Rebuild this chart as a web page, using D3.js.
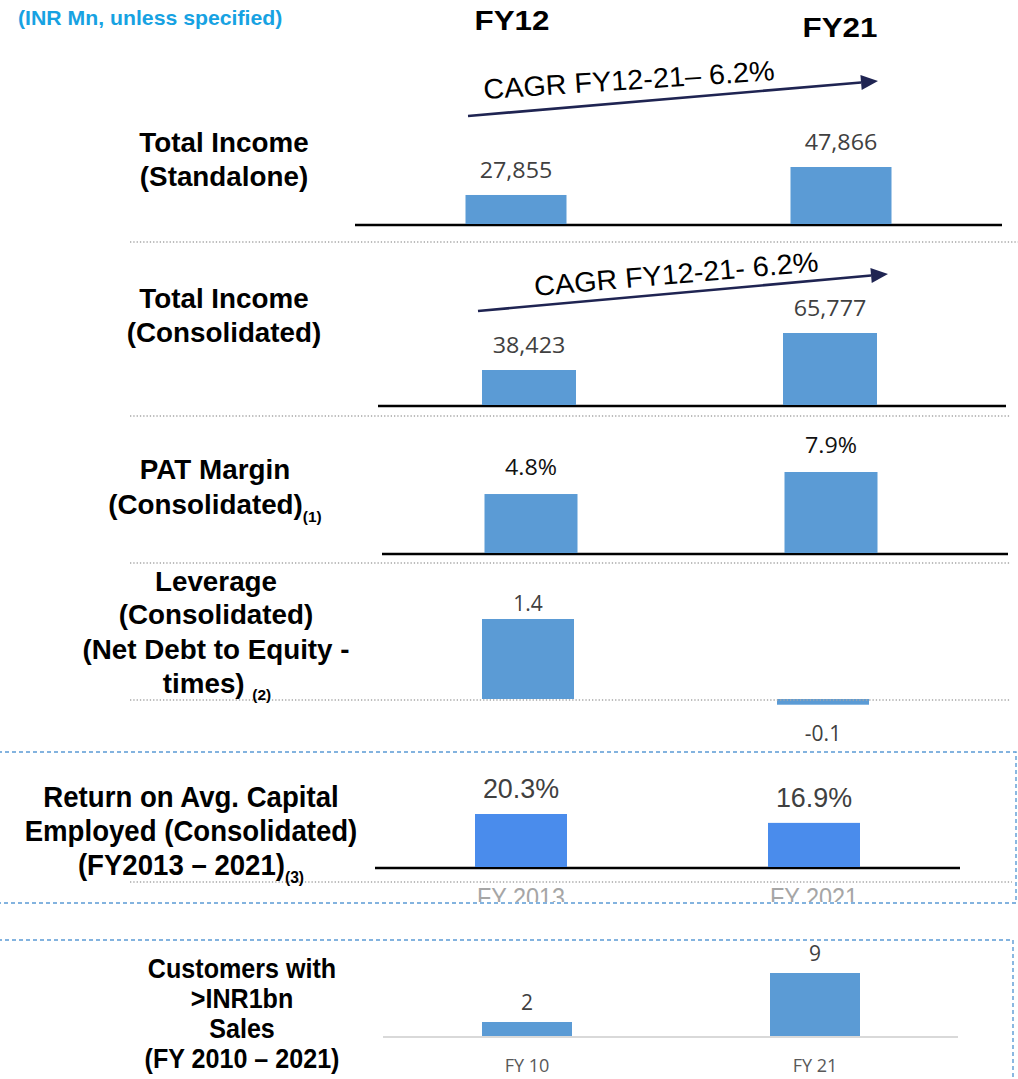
<!DOCTYPE html>
<html><head><meta charset="utf-8">
<script src="https://cdn.jsdelivr.net/npm/d3@7"></script>
<style>body{margin:0;background:#fff;overflow:hidden}</style>
</head><body>
<script>
// ---------------- DATA ----------------
const headerNote = "(INR Mn, unless specified)";
const periods = ["FY12", "FY21"];
const totalIncomeStandalone = [27855, 47866];
const totalIncomeConsolidated = [38423, 65777];
const patMarginPct = [4.8, 7.9];
const netDebtToEquity = [1.4, -0.1];
const roacePeriods = ["FY 2013", "FY 2021"];
const roacePct = [20.3, 16.9];
const customerPeriods = ["FY 10", "FY 21"];
const customersAbove1bn = [2, 9];
const cagrLabels = ["CAGR FY12-21\u2013 6.2%", "CAGR FY12-21- 6.2%"];

// ---------------- DRAW ----------------
const W = 1018, H = 1079;
const svg = d3.select("body").append("svg").attr("width", W).attr("height", H);
const SANS = "'Liberation Sans', Arial, sans-serif";
const LBL = "'Open Sans', 'Noto Sans', sans-serif";

function txt(g, str, x, y, o = {}) {
  const gg = g.append("g").attr("transform",
    `translate(${x},${y}) rotate(${o.rot || 0}) scale(${o.sx || 1},1)`);
  const t = gg.append("text")
    .attr("text-anchor", o.anchor || "middle")
    .attr("font-family", o.family || SANS)
    .attr("font-size", o.size || 20)
    .attr("font-weight", o.weight || "normal")
    .attr("fill", o.fill || "#000");
  if (o.sub) {
    t.append("tspan").text(str);
    t.append("tspan").text(o.sub).attr("font-size", o.subSize || 15).attr("dy", o.subDy || 8);
  } else t.text(str);
  return t;
}

function dotted(y, x0, x1) {
  svg.append("line").attr("x1", x0).attr("x2", x1).attr("y1", y).attr("y2", y)
    .attr("stroke", "#a6a6a6").attr("stroke-width", 1.3).attr("stroke-dasharray", "1.3,2");
}

// header
txt(svg, headerNote, 18, 25, {anchor: "start", size: 19.5, weight: "bold", fill: "#17a2e2", sx: 1.09});
txt(svg, periods[0], 512, 30, {size: 28, weight: "bold", sx: 1.12});
txt(svg, periods[1], 840, 37, {size: 28, weight: "bold", sx: 1.12});

// separators
dotted(242, 130, 1018);
dotted(416, 130, 1010);
dotted(563, 130, 1010);
dotted(882, 130, 1012);

// dashed boxes
const box = (x, y, w, h) => svg.append("rect").attr("x", x).attr("y", y).attr("width", w).attr("height", h)
  .attr("fill", "none").attr("stroke", "#5b9bd5").attr("stroke-width", 1.4).attr("stroke-dasharray", "4,3");
box(-2, 752, 1018, 151);
box(-2, 940, 1015, 160);

// panels
const panels = [
  {cats: periods, values: totalIncomeStandalone, fmt: d3.format(","), centers: [516, 841], bw: 101,
   base: 224, top: 167, domain: [7100, 47866], baseVal: 7100, axis: [355, 1002, "#000", 2.5],
   lblGap: 17, lblFill: "#404040", lblSize: 22, lblSx: 1.06, fill: "#5b9bd5"},
  {cats: periods, values: totalIncomeConsolidated, fmt: d3.format(","), centers: [529, 830], bw: 94,
   base: 405, top: 333, domain: [12550, 65777], baseVal: 12550, axis: [378, 1006, "#000", 2.5],
   lblGap: 17, lblFill: "#404040", lblSize: 22, lblSx: 1.06, fill: "#5b9bd5"},
  {cats: periods, values: patMarginPct, fmt: d => d.toFixed(1) + "%", centers: [531, 831], bw: 93,
   base: 553, top: 472, domain: [-3.5, 7.9], baseVal: -3.5, axis: [382, 1008, "#000", 2.5],
   lblGap: 19, lblFill: "#111", lblSize: 22, lblSx: 1.06, fill: "#5b9bd5"},
  {cats: periods, values: netDebtToEquity, fmt: d => d.toFixed(1), centers: [528, 823], bw: 92,
   base: 699, top: 619, domain: [0, 1.4], baseVal: 0, axis: null,
   lblGap: 8, negGap: 36, lblFill: "#404040", lblSize: 21, fill: "#5b9bd5"},
  {cats: roacePeriods, values: roacePct, fmt: d => d.toFixed(1) + "%", centers: [521, 814], bw: 92,
   base: 867, top: 814, domain: [0, 20.3], baseVal: 0, axis: [375, 960, "#000", 2.5],
   lblGap: 16, lblFill: "#404040", lblSize: 28, lblFamily: SANS, lblSx: 0.96, fill: "#4a8cec",
   catY: 906, catFill: "#a6a6a6", catSize: 26, catFamily: SANS, catSx: 0.9, clipBottom: 902},
  {cats: customerPeriods, values: customersAbove1bn, fmt: d => String(d), centers: [527, 815], bw: 90,
   base: 1036, top: 973, domain: [0, 9], baseVal: 0, axis: [383, 958, "#d9d9d9", 2],
   lblGap: 12, lblFill: "#404040", lblSize: 21, fill: "#5b9bd5",
   catY: 1072, catFill: "#595959", catSize: 19, catFamily: LBL, catSx: 0.95}
];

panels.forEach((p, pi) => {
  const x = d3.scalePoint().domain(p.cats).range(p.centers);
  const y = d3.scaleLinear().domain(p.domain).range([p.base, p.top]);
  const g = svg.append("g");
  if (p.axis) {
    g.append("line").attr("x1", p.axis[0]).attr("x2", p.axis[1])
      .attr("y1", p.base + 1).attr("y2", p.base + 1)
      .attr("stroke", p.axis[2]).attr("stroke-width", p.axis[3]);
  } else {
    dotted(p.base + 1, 130, 1010);
  }
  g.selectAll("rect.bar").data(p.values).join("rect").attr("class", "bar")
    .attr("x", (d, i) => x(p.cats[i]) - p.bw / 2)
    .attr("y", d => Math.min(y(d), y(p.baseVal)))
    .attr("width", p.bw)
    .attr("height", d => Math.abs(y(d) - y(p.baseVal)))
    .attr("fill", p.fill);
  p.values.forEach((d, i) => {
    const ly = d >= 0 ? y(d) - p.lblGap : y(d) + p.negGap;
    txt(g, p.fmt(d), x(p.cats[i]), ly, {size: p.lblSize, fill: p.lblFill,
      family: p.lblFamily || LBL, sx: p.lblSx || 1});
  });
  if (p.catY) {
    let cg = g;
    if (p.clipBottom) {
      svg.append("clipPath").attr("id", "clip" + pi).append("rect")
        .attr("x", 0).attr("y", 0).attr("width", W).attr("height", p.clipBottom);
      cg = g.append("g").attr("clip-path", `url(#clip${pi})`);
    }
    p.cats.forEach(c => txt(cg, c, x(c), p.catY, {size: p.catSize, fill: p.catFill,
      family: p.catFamily, sx: p.catSx || 1}));
  }
});

// CAGR arrows
const arrows = [
  {from: [468, 116], to: [878, 81], text: cagrLabels[0], tx: 484, ty: 99, rot: -3.7},
  {from: [478, 311], to: [888, 274], text: cagrLabels[1], tx: 535, ty: 296, rot: -5.0}
];
arrows.forEach(a => {
  const dx = a.to[0] - a.from[0], dy = a.to[1] - a.from[1];
  const L = Math.hypot(dx, dy), ux = dx / L, uy = dy / L;
  const hl = 17, hw = 7.5;
  const bx = a.to[0] - ux * hl, by = a.to[1] - uy * hl;
  svg.append("line").attr("x1", a.from[0]).attr("y1", a.from[1]).attr("x2", bx).attr("y2", by)
    .attr("stroke", "#1f2452").attr("stroke-width", 2.6);
  svg.append("path").attr("d", d3.line()([[a.to[0], a.to[1]], [bx - uy * hw, by + ux * hw], [bx + uy * hw, by - ux * hw]]) + "Z")
    .attr("fill", "#1f2452");
  txt(svg, a.text, a.tx, a.ty, {anchor: "start", size: 28, rot: a.rot, sx: 1.03});
});

// Row titles
const T = {size: 27, weight: "bold", sx: 1.03};
txt(svg, "Total Income", 224, 152, T);
txt(svg, "(Standalone)", 224, 186, T);
txt(svg, "Total Income", 224, 308, T);
txt(svg, "(Consolidated)", 224, 342, T);
txt(svg, "PAT Margin", 215, 479, T);
txt(svg, "(Consolidated)", 215, 514, {...T, sub: "(1)", subSize: 15, subDy: 8});
txt(svg, "Leverage", 216, 591, T);
txt(svg, "(Consolidated)", 216, 624, T);
txt(svg, "(Net Debt to Equity -", 216, 659, T);
txt(svg, "times) ", 217, 693, {...T, sub: "(2)", subSize: 15, subDy: 7});
const R = {size: 30, weight: "bold", sx: 0.92};
txt(svg, "Return on Avg. Capital", 191, 807, R);
txt(svg, "Employed (Consolidated)", 191, 841, R);
txt(svg, "(FY2013 \u2013 2021)", 191, 875, {...R, sub: "(3)", subSize: 17, subDy: 8});
const C = {size: 27, weight: "bold", sx: 0.93};
txt(svg, "Customers with", 242, 978, C);
txt(svg, ">INR1bn", 242, 1008, C);
txt(svg, "Sales", 242, 1038, C);
txt(svg, "(FY 2010 \u2013 2021)", 242, 1068, C);
</script>
</body></html>
